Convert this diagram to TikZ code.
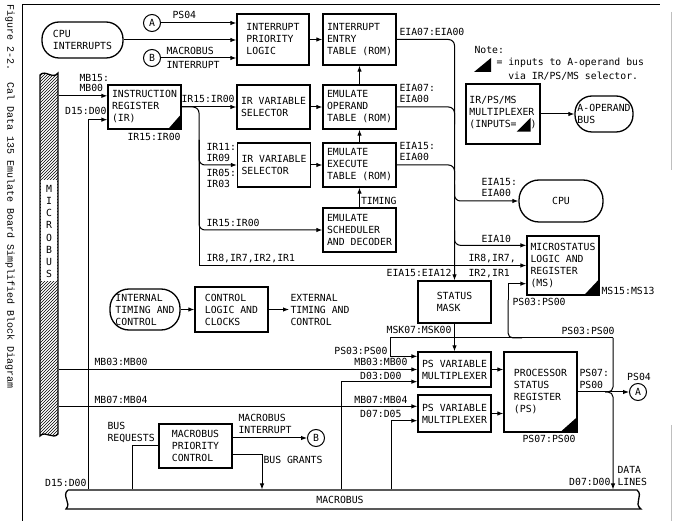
\documentclass[tikz,border=0pt]{standalone}
\usepackage{fontspec}
\setmainfont{DejaVu Sans Mono}
\newfontfamily\capfont{Liberation Mono}
\usetikzlibrary{arrows.meta, patterns, positioning, calc}

\newcommand{\cornertri}{\tikz[baseline=4pt]\fill (0pt,0pt) -- (14pt,0pt) -- (14pt,14pt) -- cycle;}

\begin{document}
\begin{tikzpicture}[x=1pt, y=-1pt, line width=1pt,
  font=\fontsize{9.8}{12}\selectfont,
  >={Latex[length=6pt,width=4.5pt]},
  blk/.style={draw, line width=1.3pt, minimum width=73pt, minimum height=44pt, align=left, inner sep=2pt},
  pill/.style={draw, line width=1.3pt, align=left, inner sep=1pt},
  tag/.style={draw, circle, line width=1pt, minimum size=17pt, inner sep=0pt},
  lbl/.style={inner sep=1pt, align=left}]
  \useasboundingbox (0,0) rectangle (673,521);

  % === frame and caption ===
  \draw (22,521) -- (22,5) -- (660,5);
  \draw[gray!50, line width=0.6pt] (671.5,12) -- (671.5,170) (671.5,425) -- (671.5,521);
  \node[rotate=-90, anchor=west, inner sep=0pt, font=\capfont\fontsize{10}{12}\selectfont] (caption) at (10,4)
    {Figure 2-2.~~Cal Data 135 Emulate Board Simplified Block Diagram};

  % === buses ===
  \fill[pattern=north east lines] (40,75) .. controls (45,69) and (53,80) .. (58,73) -- (58,434)
    .. controls (53,440) and (45,430) .. (40,436) -- cycle;
  \fill[white] (41,180) rectangle (57,281);
  \draw[line width=1.3pt] (40,75) .. controls (45,69) and (53,80) .. (58,73) -- (58,434)
    .. controls (53,440) and (45,430) .. (40,436) -- cycle;
  \node[minimum width=18pt, inner sep=0pt, align=center, font=\fontsize{9.8}{12.2}\selectfont] (microbus) at (49,231.5)
    {M\\I\\C\\R\\O\\B\\U\\S};
  \draw[line width=1.3pt] (68,490) -- (637,490) .. controls (644,496) and (633,503) .. (641,509)
    -- (66,509) .. controls (72,503) and (61,496) .. (68,490);
  \node[inner sep=0pt, minimum height=19pt] (macrobus) at (340,499.5) {MACROBUS};

  % === interrupt section ===
  \node[pill, rounded corners=17pt, minimum width=81pt, minimum height=36pt] (cpuint) at (82.5,40) {CPU\\INTERRUPTS};
  \node[tag] (tagA) at (152,23) {A};
  \node[tag] (tagB) at (152,58) {B};
  \node[blk, minimum width=72pt, minimum height=51pt] (ipl) at (273,39.5) {INTERRUPT\\PRIORITY\\LOGIC};
  \node[blk, minimum height=51pt] (iet) at (359.5,39.5) {INTERRUPT\\ENTRY\\TABLE (ROM)};

  % === emulate section ===
  \node[blk] (ir) at (144.5,107) {INSTRUCTION\\REGISTER\\(IR)};
  \node[blk] (irsel1) at (273.5,107) {IR VARIABLE\\SELECTOR};
  \node[blk] (eot) at (359.5,107) {EMULATE\\OPERAND\\TABLE (ROM)};
  \node[blk] (irsel2) at (274,165) {IR VARIABLE\\SELECTOR};
  \node[blk] (eet) at (359.5,165) {EMULATE\\EXECUTE\\TABLE (ROM)};
  \node[blk] (sched) at (359.5,230) {EMULATE\\SCHEDULER\\AND DECODER};

  % === note and A-operand ===
  \node[lbl, anchor=west] (note) at (473,50) {Note:};
  \fill (474,72) -- (491,72) -- (491,58) -- cycle;
  \node[lbl, anchor=north west] (notetxt) at (495,57) {= inputs to A-operand bus\\[2pt]\phantom{= }via IR/PS/MS selector.};
  \node[blk, minimum width=74pt, minimum height=60pt] (irmux) at (503,114) {IR/PS/MS\\MULTIPLEXER\\(INPUTS=\cornertri)};
  \node[pill, rounded corners=17pt, minimum width=58pt, minimum height=36pt] (aop) at (604,114) {A-OPERAND\\BUS};

  % === status section ===
  \node[pill, rounded corners=20pt, minimum width=84pt, minimum height=42pt] (cpu) at (561,201) {CPU};
  \node[blk, minimum width=72pt, minimum height=59pt] (ms) at (563,265.5) {MICROSTATUS\\LOGIC AND\\REGISTER\\(MS)};
  \node[blk, minimum height=42pt] (smask) at (454.5,302) {STATUS\\MASK};
  \node[blk, minimum height=35pt] (psmux1) at (454.5,369.5) {PS VARIABLE\\MULTIPLEXER};
  \node[blk, minimum height=37pt] (psmux2) at (454.5,413.5) {PS VARIABLE\\MULTIPLEXER};
  \node[blk, minimum height=80pt] (ps) at (540.5,392) {PROCESSOR\\STATUS\\REGISTER\\(PS)};
  \node[tag] (tagA2) at (638,392) {A};

  % === timing and macrobus control ===
  \node[pill, rounded corners=19pt, minimum width=70pt, minimum height=41pt, inner sep=0pt] (itc) at (145,309.5) {INTERNAL\\TIMING AND\\CONTROL};
  \node[blk, minimum height=45pt] (clock) at (231.5,309.5) {CONTROL\\LOGIC AND\\CLOCKS};
  \node[lbl, anchor=west] (ext) at (289,309.5) {EXTERNAL\\TIMING AND\\CONTROL};
  \node[blk] (mbpc) at (195.5,446) {MACROBUS\\PRIORITY\\CONTROL};
  \node[tag] (tagB2) at (316,438) {B};

  % corner marks (A-operand inputs)
  \fill ([xshift=-14pt]ir.south east) -- (ir.south east) -- ([yshift=16pt]ir.south east) -- cycle;
  \fill ([xshift=-16pt]ms.south east) -- (ms.south east) -- ([yshift=17pt]ms.south east) -- cycle;
  \fill ([xshift=-18pt]ps.south east) -- (ps.south east) -- ([yshift=16pt]ps.south east) -- cycle;

  % named points
  \coordinate (d15) at (88,0);
  \coordinate (irtap) at (199,140);
  \coordinate (breq) at (132,0);
  \coordinate (bgr) at (262,0);
  \coordinate (d03) at (341,0);
  \coordinate (d07) at (391,0);
  \coordinate (psdrop) at (390,338);
  \coordinate (fbtop) at (613,338);
  \coordinate (fbjoin) at (605,392);
  \coordinate (mstap) at (522,338);
  \coordinate (msup) at (508,300);
  \coordinate (irin1) at ([yshift=-11.5pt]ir.north west);
  \coordinate (irin2) at ([yshift=10pt]ir.south west);
  \coordinate (eiain) at ([yshift=-10pt]ms.north west);
  \coordinate (msin) at ([yshift=12pt]ms.south west);
  \coordinate (pm1a) at ([yshift=-5pt]psmux1.north west);
  \coordinate (pm1c) at ([yshift=6pt]psmux1.south west);
  \coordinate (pm2a) at ([yshift=-12pt]psmux2.north west);
  \coordinate (pm2b) at ([yshift=12pt]psmux2.south west);
  \coordinate (bgout) at ([yshift=-9pt]mbpc.east);

  % === connectors ===
  \draw[->] (tagA) -- (tagA -| ipl.west);
  \draw[->] (cpuint) -- (cpuint -| ipl.west);
  \draw[->] (tagB) -- (tagB -| ipl.west);
  \draw[->] (ipl) -- (iet);
  \draw[->] (eot) -- (iet);
  \draw[->] (eet) -- (eot);
  \draw[->] (sched) -- (eet) node[lbl, pos=0.35, right] (ltiming) {TIMING};
  \draw[->] (irsel1) -- (eot);
  \draw[->] (irsel2) -- (eet);

  % EIA bus
  \draw[->, rounded corners=6pt] (iet.east) -| (smask.north);
  \draw[rounded corners=6pt] (eot.east) -| ([yshift=156pt]smask.north);
  \draw[rounded corners=6pt] (eet.east) -| ([yshift=100pt]smask.north);
  \draw[->, rounded corners=6pt] ([yshift=96pt]smask.north) |- (cpu.west);
  \draw[->, rounded corners=6pt] ([yshift=50pt]smask.north) |- (eiain);
  \draw[->] (irmux) -- (aop);

  % IR bus
  \draw[->] (microbus.east |- irin1) -- (irin1);
  \draw[->] (d15 |- macrobus.north) |- (irin2);
  \draw[->] (ir) -- (irsel1);
  \draw[rounded corners=6pt] (ir.east) -| (irtap);
  \draw[->, rounded corners=6pt] (irtap) |- (irsel2.west);
  \draw[->, rounded corners=6pt] (irtap) |- (sched.west);
  \draw[->] (irtap) |- (ms.west);

  % status and PS
  \draw[->] (smask) -- (psmux1);
  \draw[->] (microbus.east |- psmux1.west) -- (psmux1.west);
  \draw[->] (microbus.east |- pm2a) -- (pm2a);
  \draw[->] (d03 |- macrobus.north) |- (pm1c);
  \draw[->] (d07 |- macrobus.north) |- (pm2b);
  \draw[->] (psmux1.east) -- (psmux1.east -| ps.west);
  \draw[->] (psmux2.east) -- (psmux2.east -| ps.west);
  \draw[->] (ps) -- (tagA2);
  \draw[rounded corners=5pt] (fbjoin) -| (fbtop);
  \draw[->] (fbtop) -- (psdrop) |- (pm1a);
  \draw[rounded corners=5pt] (mstap) -| (msup);
  \draw[->] (msup) |- (msin);
  \draw[->, rounded corners=5pt] (fbjoin) -| (fbtop |- macrobus.north);

  % timing and macrobus control
  \draw[->] (itc) -- (clock);
  \draw[->] (clock) -- (ext);
  \draw (breq |- macrobus.north) |- (mbpc.west);
  \draw[->] (mbpc.east |- tagB2) -- (tagB2);
  \draw[->] (bgout) -| (bgr |- macrobus.north);

  % === signal labels ===
  \node[lbl, anchor=south west] (lps04) at (171,20) {PS04};
  \node[lbl, anchor=west] (lmbint) at (165,58) {MACROBUS\\[2pt]INTERRUPT};
  \node[lbl, anchor=south west] (leia1) at (398,37) {EIA07:EIA00};
  \node[lbl, anchor=south west] (leia2) at (398,104) {EIA07:\\[-1pt]EIA00};
  \node[lbl, anchor=south west] (leia3) at (398,162) {EIA15:\\[-1pt]EIA00};
  \node[lbl, anchor=south west] (lmb15) at (78,93) {MB15:\\[-2pt]MB00};
  \node[lbl, anchor=south east] (ld15a) at (108,116) {D15:D00};
  \node[lbl, anchor=north west] (lir1) at (126,132) {IR15:IR00};
  \node[lbl, anchor=south west] (lir2) at (180,104) {IR15:IR00};
  \node[lbl, anchor=south west] (lir3) at (205,163) {IR11:\\[-1pt]IR09};
  \node[lbl, anchor=north west] (lir4) at (205,168) {IR05:\\[-1pt]IR03};
  \node[lbl, anchor=south west] (lir5) at (205,228) {IR15:IR00};
  \node[lbl, anchor=south west] (lir6) at (205,264) {IR8,IR7,IR2,IR1};
  \node[lbl, anchor=south west] (leia4) at (480,198) {EIA15:\\[-1pt]EIA00};
  \node[lbl, anchor=south west] (leia5) at (480,244) {EIA10};
  \node[lbl, anchor=south west] (lir7) at (467,264) {IR8,IR7,};
  \node[lbl, anchor=north west] (lir8) at (467,268) {IR2,IR1};
  \node[lbl, anchor=east] (leia6) at (453,273) {EIA15:EIA12};
  \node[lbl, anchor=west] (lms) at (600,291) {MS15:MS13};
  \node[lbl, anchor=west] (lps1) at (511,302) {PS03:PS00};
  \node[lbl, anchor=south west] (lps2) at (560,336) {PS03:PS00};
  \node[lbl, anchor=east] (lmsk) at (453,330) {MSK07:MSK00};
  \node[lbl, anchor=east] (lps3) at (389,351) {PS03:PS00};
  \node[lbl, anchor=south east] (lmb03r) at (409,367) {MB03:MB00};
  \node[lbl, anchor=east] (ld03) at (403,375.5) {D03:D00};
  \node[lbl, anchor=south east] (lmb07r) at (409,405) {MB07:MB04};
  \node[lbl, anchor=east] (ld07) at (403,414) {D07:D05};
  \node[lbl, anchor=south west] (lmb03l) at (93,367) {MB03:MB00};
  \node[lbl, anchor=south west] (lmb07l) at (93,405) {MB07:MB04};
  \node[lbl, anchor=south west] (lps4) at (578,390) {PS07:\\PS00};
  \node[lbl, anchor=south] (lps04b) at (639,382) {PS04};
  \node[lbl, anchor=north west] (lps5) at (521,434) {PS07:PS00};
  \node[lbl, anchor=west] (ldata) at (616,475.5) {DATA\\LINES};
  \node[lbl, anchor=east] (ld07b) at (612,482) {D07:D00};
  \node[lbl, anchor=west] (lbreq) at (106,433) {BUS\\REQUESTS};
  \node[lbl, anchor=south west] (lmbint2) at (237,435) {MACROBUS\\INTERRUPT};
  \node[lbl, anchor=west] (lbgr) at (262,460) {BUS GRANTS};
  \node[lbl, anchor=east] (ld15b) at (88,483) {D15:D00};
\end{tikzpicture}
\end{document}
